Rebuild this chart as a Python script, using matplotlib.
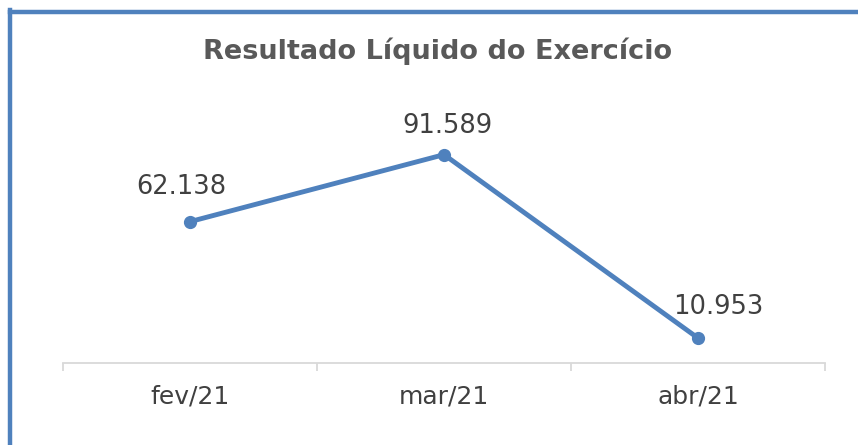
import matplotlib
matplotlib.use("Agg")
import matplotlib.pyplot as plt
from matplotlib.lines import Line2D
import matplotlib.transforms as mtrans

categories = ["fev/21", "mar/21", "abr/21"]
values = [62.138, 91.589, 10.953]
labels = ["62.138", "91.589", "10.953"]
title = "Resultado Líquido do Exercício"

# label offsets in pixels (style only)
label_offsets = [(-9, 35), (3, 29), (20, 31)]

plt.rcParams['font.family'] = ['DejaVu Sans']
W, H = 858, 445
fig = plt.figure(figsize=(W/100, H/100), dpi=100)
fig.patch.set_facecolor("white")

# border (left and top)
border = "#4F81BD"
fig.add_artist(Line2D([10/W, 10/W], [0, 1 - 10/H], color=border, lw=3.2, transform=fig.transFigure, solid_capstyle="projecting"))
fig.add_artist(Line2D([10/W, 1], [1 - 11.5/H, 1 - 11.5/H], color=border, lw=3.2, transform=fig.transFigure, solid_capstyle="projecting"))

left, right = 63/W, 825/W
bottom = (H - 363)/H
top = (H - 135.5)/H
ax = fig.add_axes([left, bottom, right - left, top - bottom])
x = list(range(len(categories)))
ax.plot(x, values, color="#4F81BD", lw=3.5, marker="o", markersize=8.5, solid_capstyle="round", clip_on=False)
ax.set_xlim(-0.5, len(categories) - 0.5)
ax.set_ylim(0, 100)
for xi, v, lab, (dx, dy) in zip(x, values, labels, label_offsets):
    ax.annotate(lab, (xi, v), xytext=(dx * 0.72, dy * 0.72), textcoords="offset points", ha="center", va="center",
                fontsize=18.5, color="#404040", annotation_clip=False)

for s in ["left", "right", "top"]:
    ax.spines[s].set_visible(False)
ax.spines["bottom"].set_color("#D9D9D9")
ax.spines["bottom"].set_linewidth(1.3)
ax.set_yticks([])
ax.set_xticks([-0.5, 0.5, 1.5, 2.5])
ax.set_xticklabels([])
ax.tick_params(axis="x", which="major", length=6, width=1.3, color="#D9D9D9", direction="out")
trans = mtrans.blended_transform_factory(ax.transData, ax.transAxes)
off = mtrans.ScaledTranslation(0, -34/100, fig.dpi_scale_trans)
for xi, c in zip(x, categories):
    ax.text(xi, 0, c, transform=trans + off, ha="center", va="center", fontsize=18, color="#404040")

fig.text(438/W, 1 - 51/H, title, ha="center", va="center", fontsize=19.5, fontweight="bold", color="#595959")

fig.savefig("out.png", dpi=100)
